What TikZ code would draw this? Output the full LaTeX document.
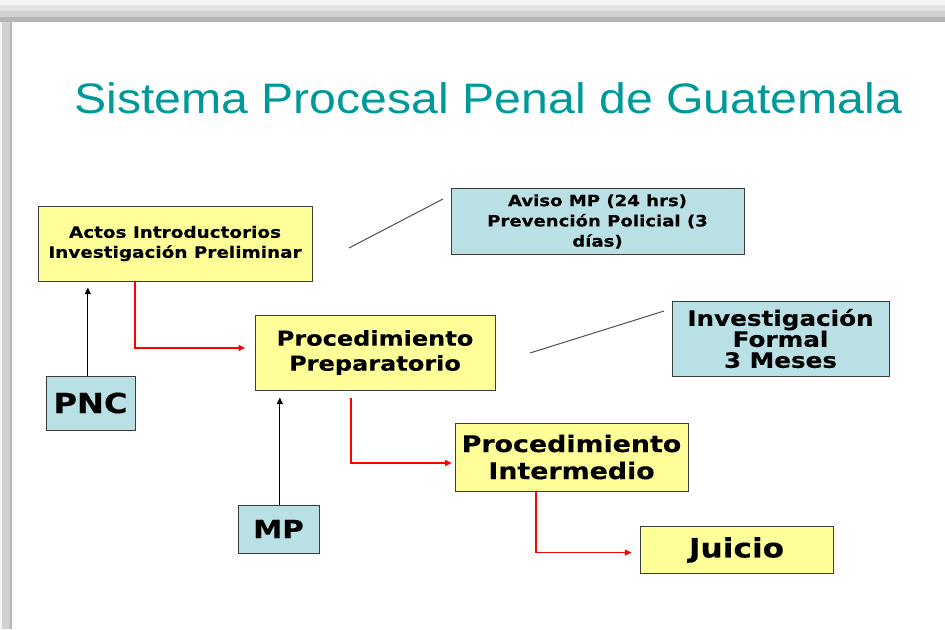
\documentclass[tikz,border=0pt]{standalone}
\usepackage{fontspec}
\newfontfamily\vb{DejaVu Sans}[FakeStretch=1.17,BoldFeatures={FakeBold=0.35}]
\newfontfamily\ttl{Liberation Sans}[FakeStretch=1.13]
\usetikzlibrary{arrows.meta}
\definecolor{boxyellow}{RGB}{255,255,153}
\definecolor{boxblue}{RGB}{185,224,228}
\definecolor{titleteal}{RGB}{0,153,153}
\definecolor{edgegray}{RGB}{60,60,60}
\definecolor{leadgray}{RGB}{80,80,80}
\definecolor{fr1}{RGB}{243,243,243}
\definecolor{fr2}{RGB}{227,227,227}
\definecolor{fr3}{RGB}{209,209,209}
\definecolor{fr4}{RGB}{181,181,181}
\begin{document}
\begin{tikzpicture}[x=0.75pt,y=-0.75pt,
  box/.style={draw=edgegray,line width=0.75pt,inner sep=0pt,align=center,text=black},
  ybox/.style={box,fill=boxyellow},
  bbox/.style={box,fill=boxblue},
  redarr/.style={draw=red,line width=1.1pt,-{Triangle[length=5pt,width=4.5pt]}},
  blkarr/.style={draw=black,line width=0.75pt,-{Triangle[length=5pt,width=4.5pt]}},
  leader/.style={draw=leadgray,line width=0.75pt}]
\useasboundingbox (0,0) rectangle (945,629);
% slide background and shadow frame
\fill[white] (0,0) rectangle (945,629);
\fill[fr1] (0,0) rectangle (945,5);
\fill[fr2] (0,5) rectangle (945,11);
\fill[fr3] (0,11) rectangle (945,17);
\fill[fr4] (0,17) rectangle (945,22);
\fill[fr1] (0,22) rectangle (2,629);
\fill[fr3] (2,22) rectangle (10,629);
\fill[fr4] (10,22) rectangle (12,629);

% title
\node[anchor=base west,inner sep=0pt,text=titleteal,font=\ttl\fontsize{32}{38}\selectfont] (title) at (74,113) {Sistema Procesal Penal de Guatemala};

% boxes
\node[ybox,minimum width=205.5pt,minimum height=56.25pt,font=\vb\bfseries\fontsize{11.8}{15}\selectfont] (actos) at (175,243.5) {Actos Introductorios\\Investigación Preliminar};
\node[bbox,minimum width=219.75pt,minimum height=49.5pt,font=\vb\bfseries\fontsize{11.6}{15.2}\selectfont] (aviso) at (597.5,221.5) {Aviso MP (24 hrs)\\Prevención Policial (3\\días)};
\node[ybox,minimum width=180pt,minimum height=56.25pt,font=\vb\bfseries\fontsize{15.4}{18.75}\selectfont] (prep) at (375,352.5) {Procedimiento\\Preparatorio};
\node[bbox,minimum width=162.75pt,minimum height=56.25pt,font=\vb\bfseries\fontsize{15.8}{15.75}\selectfont] (formal) at (780.5,338.5) {Investigación\\Formal\\3 Meses};
\node[bbox,minimum width=66.75pt,minimum height=40.5pt,font=\vb\bfseries\fontsize{20.6}{24}\selectfont] (pnc) at (90.5,403) {PNC};
\node[bbox,minimum width=60.75pt,minimum height=36pt,font=\vb\bfseries\fontsize{18.8}{22}\selectfont] (mp) at (278.5,529) {MP};
\node[ybox,minimum width=174.75pt,minimum height=51pt,font=\vb\bfseries\fontsize{17.2}{20.3}\selectfont] (inter) at (571.5,457) {Procedimiento\\Intermedio};
\node[ybox,minimum width=144.75pt,minimum height=35.25pt,font=\vb\bfseries\fontsize{20}{22}\selectfont] (juicio) at (736.5,550) {Juicio};

% leader lines
\coordinate (la1) at (349,248);
\coordinate (la2) at (443,199);
\coordinate (lb1) at (530,353);
\coordinate (lb2) at (664,311);
\draw[leader] (la1) -- (la2);
\draw[leader] (lb1) -- (lb2);

% black arrows
\draw[blkarr] ([xshift=-2pt]pnc.north) -- ([xshift=-2pt,yshift=-4.5pt]pnc.north |- actos.south);
\draw[blkarr] ([xshift=1pt]mp.north) -- ([xshift=1pt,yshift=-5.25pt]mp.north |- prep.south);

% red arrows
\draw[redarr] ([xshift=-30pt]actos.south) |- ([xshift=-7pt,yshift=3.4pt]prep.west);
\draw[redarr] ([xshift=-18pt,yshift=-5.25pt]prep.south) |- ([xshift=-2pt,yshift=-4.5pt]inter.west);
\draw[redarr] ([xshift=-26.6pt]inter.south) |- ([xshift=-6pt,yshift=-1.9pt]juicio.west);
\end{tikzpicture}
\end{document}
